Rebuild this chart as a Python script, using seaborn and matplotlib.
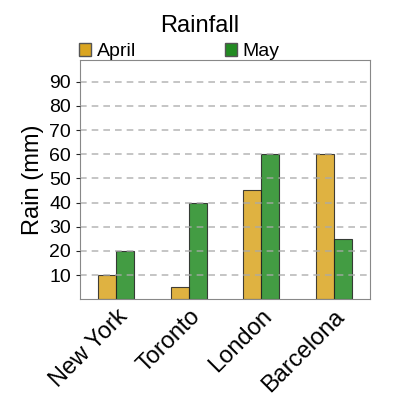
import pandas as pd
import numpy as np
import seaborn as sns
import matplotlib.pyplot as plt
from matplotlib.patches import Patch

cities = ['New York', 'Toronto', 'London', 'Barcelona']
april = [10, 5, 45, 60]
may = [20, 40, 60, 25]
months = ['April', 'May']
colors = ['#DAA520', '#228B22']

df = pd.DataFrame({'city': cities * 2,
                   'month': ['April'] * 4 + ['May'] * 4,
                   'rain': april + may})

sns.set_style('white')
plt.rcParams['font.family'] = ['Liberation Sans', 'DejaVu Sans']
plt.rcParams['text.color'] = 'black'
fig = plt.figure(figsize=(4, 4), dpi=100)
ax = fig.add_axes([0.2, 0.252, 0.725, 0.598])
sns.barplot(data=df, x='city', y='rain', hue='month', palette=colors,
            saturation=1, width=0.5, alpha=0.85, edgecolor='#222222',
            linewidth=0.8, ax=ax, legend=False)
ax.set_ylim(0, 99)
ax.set_yticks(range(10, 100, 10))
ax.yaxis.grid(True, linestyle=(0, (4, 3)), color='#aaaaaa', linewidth=1.2, alpha=0.8)
ax.set_axisbelow(False)
ax.tick_params(axis='y', labelsize=14, length=3, left=True, labelcolor='black')
ax.set_xticks(range(len(cities)))
ax.set_xticklabels(cities, rotation=45, ha='right', rotation_mode='anchor',
                   fontsize=17, color='black')
ax.tick_params(axis='x', pad=1)
ax.set_xlabel('')
ax.set_ylabel('Rain (mm)', fontsize=17, color='black')
for s in ax.spines.values():
    s.set_color('#888888')
handles = [Patch(facecolor=c, edgecolor='#555555') for c in colors]
ax.legend(handles, months, loc='lower left', bbox_to_anchor=(-0.01, 0.99),
          ncol=2, frameon=False, fontsize=14, columnspacing=4.6,
          handlelength=0.6, handleheight=0.6, handletextpad=0.3,
          borderaxespad=0, borderpad=0.1)
fig.text(0.5, 0.935, 'Rainfall', ha='center', va='center', fontsize=17)
fig.savefig('out.png', dpi=100)
